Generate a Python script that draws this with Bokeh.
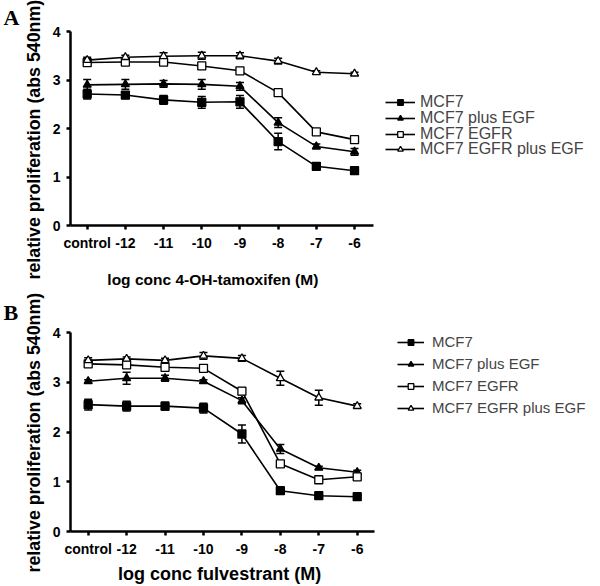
from bokeh.plotting import figure
from bokeh.models import (ColumnDataSource, Whisker, TeeHead, Legend, LegendItem,
                          FixedTicker, Range1d, LinearAxis, Title)
from bokeh.layouts import column
from bokeh.embed import file_html
from bokeh.resources import INLINE

# ---------------- data ----------------
conc_labels = ["control", "-12", "-11", "-10", "-9", "-8", "-7", "-6"]
series_names = ["MCF7", "MCF7 plus EGF", "MCF7 EGFR", "MCF7 EGFR plus EGF"]

# Panel A: 4-OH-tamoxifen
a_mcf7 = [2.71, 2.69, 2.59, 2.54, 2.55, 1.73, 1.22, 1.13]
a_mcf7_err = [0.10, 0.07, 0.09, 0.12, 0.13, 0.17, 0.07, 0.07]
a_egf = [2.90, 2.91, 2.92, 2.91, 2.87, 2.12, 1.63, 1.52]
a_egf_err = [0.11, 0.10, 0.07, 0.10, 0.08, 0.10, 0.05, 0.07]
a_egfr = [3.36, 3.37, 3.37, 3.29, 3.19, 2.74, 1.93, 1.77]
a_egfr_err = [0.05, 0.05, 0.05, 0.05, 0.05, 0.05, 0.05, 0.04]
a_egfr_egf = [3.41, 3.47, 3.49, 3.50, 3.50, 3.39, 3.16, 3.13]
a_egfr_egf_err = [0.06, 0.04, 0.07, 0.07, 0.06, 0.06, 0.03, 0.03]

# Panel B: fulvestrant
b_mcf7 = [2.55, 2.52, 2.52, 2.48, 1.96, 0.82, 0.72, 0.70]
b_mcf7_err = [0.11, 0.10, 0.08, 0.10, 0.18, 0.03, 0.03, 0.03]
b_egf = [3.02, 3.08, 3.08, 3.02, 2.63, 1.66, 1.28, 1.19]
b_egf_err = [0.03, 0.12, 0.06, 0.03, 0.06, 0.09, 0.03, 0.04]
b_egfr = [3.37, 3.35, 3.30, 3.28, 2.82, 1.36, 1.04, 1.10]
b_egfr_err = [0.05, 0.05, 0.05, 0.04, 0.07, 0.04, 0.04, 0.04]
b_egfr_egf = [3.44, 3.47, 3.44, 3.53, 3.48, 3.08, 2.69, 2.52]
b_egfr_egf_err = [0.05, 0.04, 0.04, 0.07, 0.06, 0.14, 0.15, 0.05]

y_ticks = [0, 1, 2, 3, 4]
y_title = "relative proliferation (abs 540nm)"

markers = ["square", "triangle", "square", "triangle"]
fills = ["black", "black", "white", "white"]

SANS = "Liberation Sans"


def make_panel(letter, xlabel, data, height, top, bottom, letter_standoff,
               x_start, x_axis_end, x_range_end, legends, leg_font,
               leg_glyph_w, leg_standoff, xlabel_pos, xlabel_size,
               xlabel_standoff, ylabel_offset):
    p = figure(width=600, height=height, output_backend="svg", toolbar_location=None,
               x_range=Range1d(x_start, x_range_end), y_range=Range1d(0, 4),
               min_border_left=70, min_border_right=0,
               min_border_top=top, min_border_bottom=bottom)
    p.outline_line_color = None
    p.xgrid.visible = False
    p.ygrid.visible = False
    p.background_fill_color = "white"
    p.border_fill_color = "white"

    # panel letter
    p.title.text = letter
    p.title.align = "left"
    p.title.offset = -67
    p.title.standoff = letter_standoff
    p.title.text_font = "Liberation Serif"
    p.title.text_font_style = "bold"
    p.title.text_font_size = "22px"
    p.title.text_color = "black"

    xs = list(range(len(conc_labels)))
    items = []
    for name, (vals, errs), marker, fill in zip(series_names, data, markers, fills):
        src = ColumnDataSource(dict(
            x=xs, y=vals,
            lo=[v - e for v, e in zip(vals, errs)],
            hi=[v + e for v, e in zip(vals, errs)]))
        w = Whisker(source=src, base="x", upper="hi", lower="lo",
                    line_color="black", line_width=1.5,
                    upper_head=TeeHead(size=8, line_color="black", line_width=1.5),
                    lower_head=TeeHead(size=8, line_color="black", line_width=1.5))
        p.add_layout(w)
        rl = p.line("x", "y", source=src, line_color="black", line_width=1.6)
        rm = p.scatter("x", "y", source=src, marker=marker, size=8,
                       fill_color=fill, line_color="black", line_width=1.3)
        items.append(LegendItem(label=name, renderers=[rl, rm]))

    for ax in (p.xaxis[0], p.yaxis[0]):
        ax.axis_line_width = 2.5
        ax.axis_line_color = "black"
        ax.major_tick_line_width = 2.5
        ax.major_tick_line_color = "black"
        ax.major_tick_in = 0
        ax.major_tick_out = 4
        ax.minor_tick_line_color = None
        ax.major_label_text_font = SANS
        ax.major_label_text_font_style = "bold"
        ax.major_label_text_font_size = "14px"
        ax.major_label_text_color = "black"

    p.xaxis.bounds = (x_start, x_axis_end)
    p.xaxis.ticker = FixedTicker(ticks=xs)
    p.xaxis.major_label_overrides = {i: lab for i, lab in enumerate(conc_labels)}
    p.xaxis.major_label_standoff = 5

    p.yaxis.ticker = FixedTicker(ticks=y_ticks)
    p.yaxis.major_label_standoff = 6

    # x-axis title, placed under the drawn part of the axis
    xt = LinearAxis(ticker=FixedTicker(ticks=[xlabel_pos]),
                    major_label_overrides={xlabel_pos: xlabel},
                    axis_line_color=None, major_tick_line_color=None,
                    minor_tick_line_color=None, major_tick_in=0, major_tick_out=0,
                    major_label_standoff=xlabel_standoff,
                    major_label_text_font=SANS, major_label_text_font_style="bold",
                    major_label_text_font_size=xlabel_size,
                    major_label_text_color="black")
    p.add_layout(xt, "below")

    # y-axis title
    yt = Title(text=y_title, align="left", offset=ylabel_offset, standoff=12,
               text_font=SANS, text_font_style="bold", text_font_size="17.8px",
               text_color="black")
    p.add_layout(yt, "left")

    for idxs, loc, spacing in legends:
        leg = Legend(items=[items[i] for i in idxs], location=loc,
                     padding=0, margin=0, spacing=spacing,
                     glyph_width=leg_glyph_w, glyph_height=14,
                     label_height=14, label_standoff=leg_standoff,
                     label_text_font=SANS, label_text_font_size=leg_font,
                     border_line_color=None, background_fill_alpha=0)
        p.add_layout(leg, "center")
    return p


pa = make_panel("A", "log conc 4-OH-tamoxifen (M)",
                [(a_mcf7, a_mcf7_err), (a_egf, a_egf_err),
                 (a_egfr, a_egfr_err), (a_egfr_egf, a_egfr_egf_err)],
                height=290, top=31, bottom=60, letter_standoff=4,
                x_start=-0.437, x_axis_end=7.5, x_range_end=13.44,
                legends=[([0, 2], (315, 82), 14), ([1, 3], (315, 67), 13)],
                leg_font="16px", leg_glyph_w=30, leg_standoff=5,
                xlabel_pos=3.29, xlabel_size="15.5px", xlabel_standoff=17,
                ylabel_offset=-54)

pb = make_panel("B", "log conc fulvestrant (M)",
                [(b_mcf7, b_mcf7_err), (b_egf, b_egf_err),
                 (b_egfr, b_egfr_err), (b_egfr_egf, b_egfr_egf_err)],
                height=296, top=42, bottom=50, letter_standoff=15,
                x_start=-0.46, x_axis_end=7.45, x_range_end=13.33,
                legends=[([0, 1, 2, 3], (327, 115), 5)],
                leg_font="15px", leg_glyph_w=27, leg_standoff=8,
                xlabel_pos=3.42, xlabel_size="18px", xlabel_standoff=4,
                ylabel_offset=-41)

layout = column(pa, pb)
open("out.html", "w").write(file_html(layout, INLINE))
